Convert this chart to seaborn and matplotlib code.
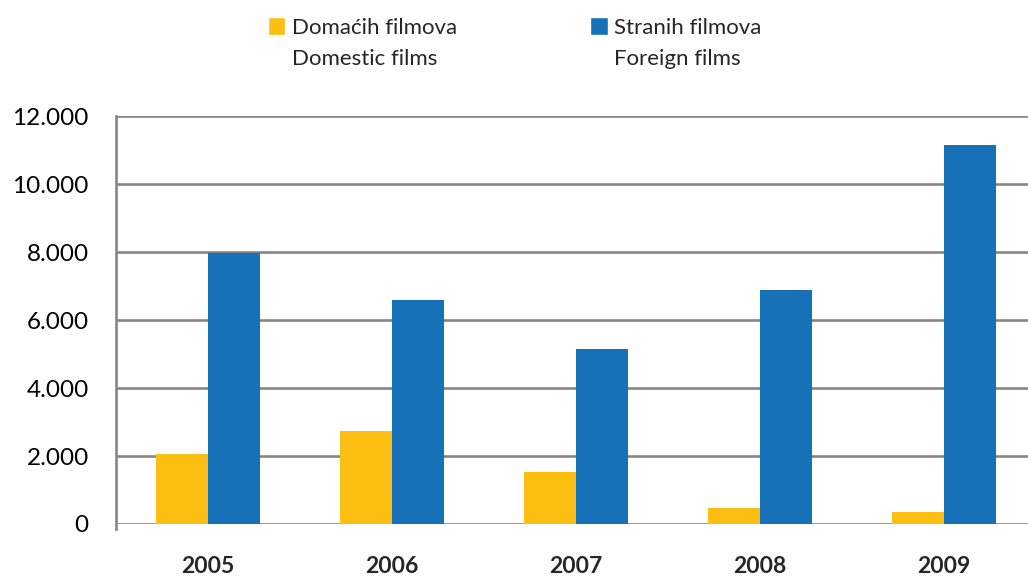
import pandas as pd
import matplotlib.pyplot as plt
import seaborn as sns
from matplotlib.patches import Patch
from matplotlib.ticker import FuncFormatter

years = ["2005", "2006", "2007", "2008", "2009"]
domestic = [2060, 2750, 1520, 460, 340]
foreign = [7990, 6580, 5160, 6890, 11170]
series_names = ["Domaćih filmova", "Stranih filmova"]
series_names_en = ["Domestic films", "Foreign films"]
colors = ["#FDBE12", "#1671B8"]
grid_color = "#868686"

df = pd.DataFrame({
    "year": years * 2,
    "value": domestic + foreign,
    "series": [series_names[0]] * len(years) + [series_names[1]] * len(years),
})

sns.set_style("white")
plt.rcParams["font.family"] = ["Lato", "DejaVu Sans"]

fig = plt.figure(figsize=(10.28, 5.8), dpi=100)
ax = fig.add_axes([116 / 1028, 56 / 580, 912 / 1028, 407.6 / 580])

sns.barplot(data=df, x="year", y="value", hue="series", palette=colors,
            width=0.565, saturation=1, linewidth=0, ax=ax, legend=False, zorder=3)

ax.set_ylim(0, 12000)
ax.set_xlim(-0.5, 4.457)
ax.set_yticks(range(0, 12001, 2000))
ax.yaxis.set_major_formatter(FuncFormatter(lambda v, p: f"{int(v):,}".replace(",", ".")))
ax.grid(axis="y", color=grid_color, linewidth=1.9, zorder=0)
ax.set_axisbelow(True)

for s in ["top", "right", "bottom"]:
    ax.spines[s].set_visible(False)
ax.spines["left"].set_color(grid_color)
ax.spines["left"].set_linewidth(1.9)
ax.spines["left"].set_bounds(-150, 12000)

ax.tick_params(axis="y", length=8.6, width=1.9, color=grid_color, pad=11,
               labelsize=17.5, labelcolor="black")
ax.tick_params(axis="x", length=0, pad=23, labelsize=16.5)
for lbl in ax.get_xticklabels():
    lbl.set_fontweight("bold")
ax.set_xlabel("")
ax.set_ylabel("")

handles = [Patch(facecolor=colors[0]), Patch(facecolor="none", edgecolor="none"),
           Patch(facecolor=colors[1]), Patch(facecolor="none", edgecolor="none")]
labels = [series_names[0], series_names_en[0], series_names[1], series_names_en[1]]
fig.legend(handles, labels, ncol=2, loc="upper left", bbox_to_anchor=(248 / 1028, 1.005),
           frameon=False, fontsize=16, handlelength=0.78, handleheight=0.85,
           handletextpad=0.3, columnspacing=6.0, labelspacing=0.5)

fig.savefig("out.png", dpi=100)
